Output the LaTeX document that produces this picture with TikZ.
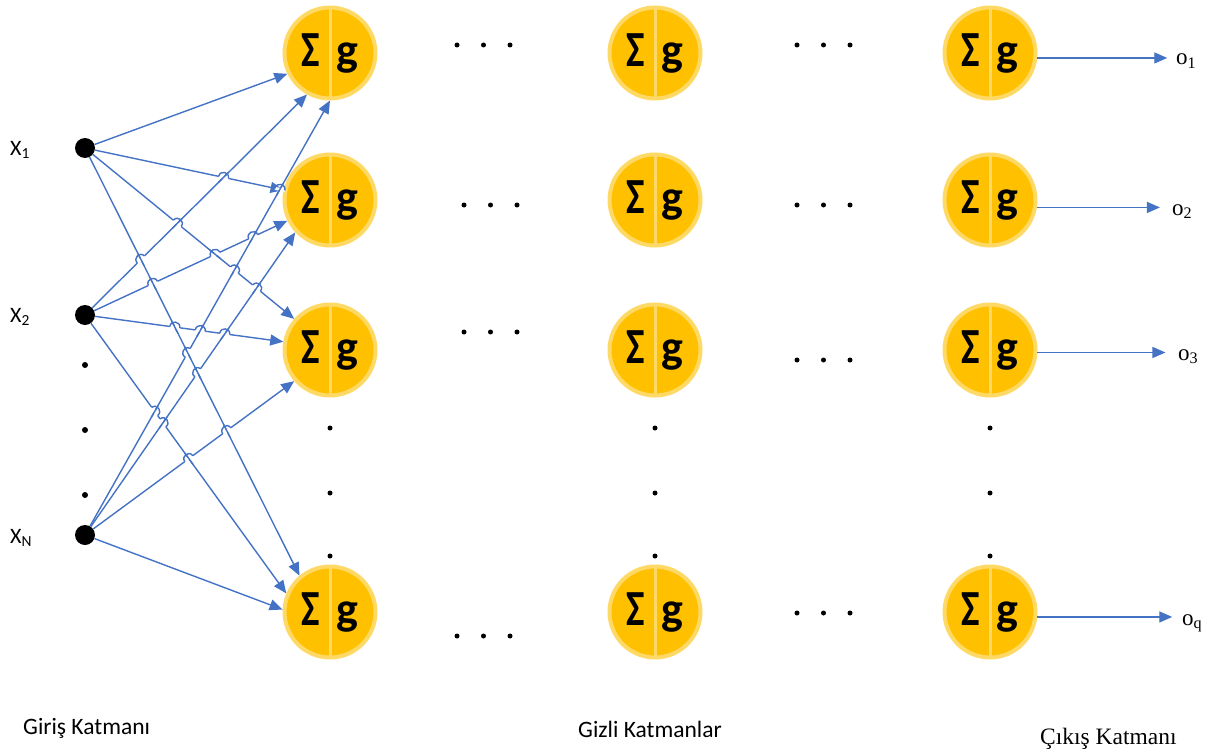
\documentclass[tikz,border=0pt]{standalone}
\usepackage{fontspec}
\setmainfont{Carlito}
\newfontfamily\seriffont{Liberation Serif}
\usetikzlibrary{arrows.meta,calc,intersections}
\definecolor{neurongold}{HTML}{FFC000}
\definecolor{neuronring}{HTML}{FFD966}
\definecolor{wireblue}{HTML}{4472C4}
\tikzset{
  neuron/.style={circle, fill=neurongold, draw=neuronring, line width=4pt,
    minimum size=91pt, inner sep=0pt,
    font=\bfseries\fontsize{46}{46}\selectfont,
    path picture={\draw[neuronring, line width=3pt]
      (path picture bounding box.north) -- (path picture bounding box.south);}},
  inputdot/.style={circle, fill=black, minimum size=20pt, inner sep=0pt},
  smalldot/.style={circle, fill=black, minimum size=5pt, inner sep=0pt},
  wireline/.style={draw=wireblue, line width=1.4pt},
  wire/.style={wireline, -{Triangle[length=13pt,width=11pt]}},
  inlabel/.style={anchor=base west, inner sep=0pt, font=\fontsize{22}{22}\selectfont},
  outlabel/.style={anchor=base west, inner sep=0pt, font=\seriffont\fontsize{23}{23}\selectfont},
  layerlabel/.style={anchor=base west, inner sep=0pt, font=\fontsize{23.5}{23.5}\selectfont},
}
\newcommand{\sumg}{\raisebox{-1pt}{\scalebox{0.85}[1.1]{Σ}}\hspace{16pt}g}
\begin{document}
\begin{tikzpicture}[x=1pt,y=-1pt]
  \useasboundingbox (0,0) rectangle (1212,749);

  % input units
  \node[inputdot] (x1) at (85,148) {};
  \node[inputdot] (x2) at (85,315) {};
  \node[inputdot] (xn) at (85,535) {};
  \node[inlabel] (lx1) at (10,155) {X\textsubscript{1}};
  \node[inlabel] (lx2) at (10,322) {X\textsubscript{2}};
  \node[inlabel] (lxn) at (10,543) {X\textsubscript{N}};
  \foreach \yy [count=\k] in {365,430,495}
    \node[smalldot, minimum size=6pt] (vin\k) at (85,\yy) {};

  % neuron grid: columns 1..3, rows 1..4
  \foreach \cx [count=\c] in {330,655,990}
    \foreach \cy [count=\r] in {53,200,350,612}
      \node[neuron] (n\c\r) at (\cx,\cy) {\sumg};

  % vertical ellipses in each column
  \foreach \cx [count=\c] in {330,655,990}
    \foreach \yy [count=\k] in {428,493,556}
      \node[smalldot] (v\c\k) at (\cx,\yy) {};

  % horizontal ellipses between columns
  \foreach \hx/\hy [count=\k] in {457/45, 797/45, 464/205, 797/205, 464/332, 797/360, 457/636, 797/613}
    \foreach \d in {0,1,2}
      \node[smalldot] (h\k\d) at (\hx+26.5*\d,\hy) {};

  % connections from the inputs into the first layer
  \foreach \src/\dst/\ang [count=\i] in {
      x1/n11/206, x1/n12/168, x1/n13/139, x1/n14/130,
      x2/n11/241, x2/n12/206, x2/n13/170, x2/n14/157,
      xn/n11/270, xn/n12/223, xn/n13/221, xn/n14/177}
    \draw[wire, name path global=w\i] (\src) -- (\dst.\ang)
      coordinate[pos=0] (s\i) coordinate[pos=1] (e\i);

  % line jumps: at each crossing the flatter wire hops over the steeper one
  \foreach \i in {1,...,11}{
    \foreach \j in {\i,...,12}{
      \ifnum\j>\i\relax
        \path[name intersections={of={w\i} and {w\j}, total=\t, name=X}]
          \pgfextra{\xdef\ntot{\t}};
        \ifnum\ntot>0\relax
          \path let \p1=($(e\i)-(s\i)$), \p2=($(e\j)-(s\j)$) in
            \pgfextra{\pgfmathparse{abs(\y1/\x1) < abs(\y2/\x2) ? 1 : 0}%
                      \xdef\ihops{\pgfmathresult}};
          \ifdim\ihops pt>0.5pt\relax
            \xdef\hop{\i}\xdef\under{\j}%
          \else
            \xdef\hop{\j}\xdef\under{\i}%
          \fi
          \path ($(X-1)!5pt!(s\hop)$) coordinate (qa)
                ($(X-1)!5pt!(e\hop)$) coordinate (qb);
          \draw[white, line width=3pt] (qa) -- (qb);
          \draw[wireline] ($(X-1)!7pt!(s\under)$) -- ($(X-1)!7pt!(e\under)$);
          \draw[wireline] (qa) .. controls ($(qa)!6.7pt!90:(qb)$)
            and ($(qb)!6.7pt!-90:(qa)$) .. (qb);
        \fi
      \fi
    }
  }

  % outputs
  \node[outlabel] (o1) at (1176,65) {o\textsubscript{1}};
  \node[outlabel] (o2) at (1172,215) {o\textsubscript{2}};
  \node[outlabel] (o3) at (1178,360) {o\textsubscript{3}};
  \node[outlabel] (oq) at (1182,625) {o\textsubscript{q}};
  \draw[wire] (n31.-6) -- ++(130,0) coordinate (t1);
  \draw[wire] (n32.-9) -- ++(123,0) coordinate (t2);
  \draw[wire] (n33.-3) -- ++(128,0) coordinate (t3);
  \draw[wire] (n34.-6) -- ++(135,0) coordinate (tq);

  % layer captions
  \node[layerlabel] (cin) at (23,734) {Giriş Katmanı};
  \node[layerlabel] (chid) at (578,737) {Gizli Katmanlar};
  \node[layerlabel, font=\seriffont\fontsize{23.5}{23.5}\selectfont] (cout) at (1040,744) {Çıkış Katmanı};
\end{tikzpicture}
\end{document}
